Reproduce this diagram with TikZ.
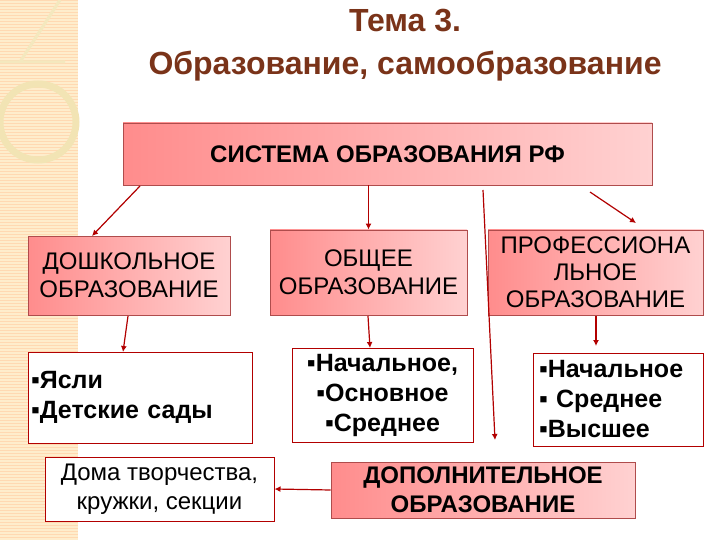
\documentclass[tikz,border=0pt]{standalone}
\usepackage{fontspec}
\setmainfont{Liberation Sans}
\usetikzlibrary{arrows.meta}
\begin{document}
\begin{tikzpicture}[x=1pt,y=-1pt,
  pinkbox/.style={draw=red!55!black!70, line width=0.8pt, left color=red!45!white, right color=red!18!white, inner sep=0pt, text=black, align=center, font=\fontsize{24}{28}\selectfont},
  whitebox/.style={draw=red!70!black, line width=1pt, fill=white, inner sep=0pt, text=black, align=center, font=\fontsize{25}{30}\selectfont\bfseries},
  arr/.style={draw=red!70!black, line width=1.2pt, -{Latex[length=6pt,width=6pt]}}]
\useasboundingbox (0,0) rectangle (720,540);
\fill[white] (0,0) rectangle (720,540);
% left decorative band
\fill[yellow!30!orange!18!white] (0,0) rectangle (78,540);
\foreach \y in {0,3,...,540} \draw[orange!30!white, line width=0.4pt] (0,\y) -- (78,\y);
\draw[yellow!40!brown!35!white, line width=7pt] (38,122) circle (38);
\draw[yellow!40!brown!30!white, line width=3pt] (0,62) -- (65,62) (60,0) -- (20,62);
% title
\node[text=black!70!red!60!brown, font=\fontsize{32}{38}\selectfont\bfseries] (t1) at (405,21) {Тема 3.};
\node[text=black!70!red!60!brown, font=\fontsize{32}{38}\selectfont\bfseries] (t2) at (405,66) {Образование, самообразование};
% boxes
\node[pinkbox, minimum width=529, minimum height=62, font=\fontsize{24}{28}\selectfont\bfseries] (sys) at (387.5,154) {СИСТЕМА ОБРАЗОВАНИЯ РФ};
\node[pinkbox, minimum width=202, minimum height=79] (dosh) at (129,275.5) {ДОШКОЛЬНОЕ\\ОБРАЗОВАНИЕ};
\node[pinkbox, minimum width=197, minimum height=85] (obsh) at (368.5,272.5) {ОБЩЕЕ\\ОБРАЗОВАНИЕ};
\node[pinkbox, minimum width=215, minimum height=85, font=\fontsize{24}{27}\selectfont] (prof) at (595.5,272.5) {ПРОФЕССИОНА\\ЛЬНОЕ\\ОБРАЗОВАНИЕ};
\node[whitebox, minimum width=224, minimum height=91, align=left, text width=218] (yasli) at (140,397.5) {▪Ясли\\▪Детские сады};
\node[whitebox, minimum width=181, minimum height=94] (nach1) at (382.5,395) {▪Начальное,\\▪Основное\\▪Среднее};
\node[whitebox, minimum width=170, minimum height=93, align=left, text width=158] (nach2) at (618,399.5) {▪Начальное\\▪ Среднее\\▪Высшее};
\node[whitebox, minimum width=229, minimum height=64, font=\fontsize{24}{29}\selectfont] (doma) at (159.5,489) {Дома творчества,\\кружки, секции};
\node[pinkbox, minimum width=304, minimum height=56, font=\fontsize{24}{29}\selectfont\bfseries] (dop) at (483,490) {ДОПОЛНИТЕЛЬНОЕ\\ОБРАЗОВАНИЕ};
% arrows
\coordinate (s1) at (140,186); \coordinate (e1) at (92,236);
\draw[arr] (s1) -- (e1);
\draw[arr] (sys.south -| obsh.north) -- (obsh.north);
\coordinate (s3) at (483,190); \coordinate (e3) at (495,440);
\draw[arr] (s3) -- (e3);
\coordinate (s4) at (590,192); \coordinate (e4) at (636,223);
\draw[arr] (s4) -- (e4);
\coordinate (s5) at (128,316); \coordinate (e5) at (123,352);
\draw[arr] (s5) -- (e5);
\coordinate (s6) at (368,316); \coordinate (e6) at (370,348);
\draw[arr] (s6) -- (e6);
\coordinate (s7) at (596,316); \coordinate (e7) at (596,346);
\draw[arr] (s7) -- (e7);
\draw[arr] (dop.west) -- (doma.east);
\end{tikzpicture}
\end{document}
